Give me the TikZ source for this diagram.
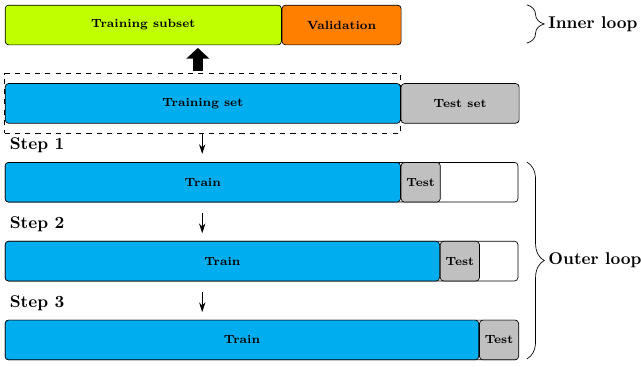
\documentclass[tikz,border=0pt]{standalone}
\usepackage{amsmath}
\usetikzlibrary{positioning,fit,arrows.meta,decorations.pathreplacing}

\definecolor{subsetgreen}{RGB}{191,255,0}
\definecolor{valorange}{RGB}{255,128,0}
\definecolor{trainblue}{RGB}{0,174,239}
\definecolor{testgray}{RGB}{192,192,192}

\tikzset{
  blk/.style={draw, rounded corners=2pt, minimum height=0.82cm, inner sep=0pt,
    font=\scriptsize\bfseries, anchor=north west},
  steplbl/.style={anchor=west, font=\bfseries},
  looplbl/.style={anchor=west, inner xsep=0pt, font=\bfseries},
  loopbrace/.style={decorate, decoration={brace, amplitude=0.36cm}},
  steparrow/.style={-{Stealth[length=2mm,width=1.3mm]}},
  bigarrow/.style={-{Triangle[width=0.46cm,length=0.22cm]}, line width=0.2cm}
}

\begin{document}
\begin{tikzpicture}
\useasboundingbox (0,0) rectangle (13.25,-7.586);

% inner loop
\node[blk, fill=subsetgreen, minimum width=5.71cm] (subset) at (0.10,-0.10) {Training subset};
\node[blk, fill=valorange, minimum width=2.46cm, right=0pt of subset] (valid) {Validation};

% whole data
\node[blk, fill=trainblue, minimum width=8.17cm] (trainset) at (0.10,-1.72) {Training set};
\node[blk, fill=testgray, minimum width=2.44cm, right=0pt of trainset] (testset) {Test set};
\node[draw, dashed, fit=(trainset), inner xsep=0pt, inner ysep=0.2cm] (outline) {};

\coordinate (up0) at (4.09,-1.47);
\coordinate (up1) at (4.09,-0.99);
\draw[bigarrow] (up0) -- (up1);

% step 1
\node[blk, fill=white, minimum width=10.60cm] (row1) at (0.10,-3.35) {};
\node[blk, fill=trainblue, minimum width=8.17cm] (train1) at (0.10,-3.35) {Train};
\node[blk, fill=testgray, minimum width=0.81cm, right=0pt of train1] (test1) {Test};
\node[steplbl] (step1) at (0.08,-3.00) {Step 1};

% step 2
\node[blk, fill=white, minimum width=10.60cm] (row2) at (0.10,-4.98) {};
\node[blk, fill=trainblue, minimum width=8.98cm] (train2) at (0.10,-4.98) {Train};
\node[blk, fill=testgray, minimum width=0.81cm, right=0pt of train2] (test2) {Test};
\node[steplbl] (step2) at (0.08,-4.63) {Step 2};

% step 3
\node[blk, fill=white, minimum width=10.60cm] (row3) at (0.10,-6.61) {};
\node[blk, fill=trainblue, minimum width=9.79cm] (train3) at (0.10,-6.61) {Train};
\node[blk, fill=testgray, minimum width=0.81cm, right=0pt of train3] (test3) {Test};
\node[steplbl] (step3) at (0.08,-6.26) {Step 3};

\coordinate (a1) at (4.18,-2.75);
\coordinate (b1) at (4.18,-3.18);
\coordinate (a2) at (4.18,-4.40);
\coordinate (b2) at (4.18,-4.82);
\coordinate (a3) at (4.18,-6.04);
\coordinate (b3) at (4.18,-6.45);
\draw[steparrow] (a1) -- (b1);
\draw[steparrow] (a2) -- (b2);
\draw[steparrow] (a3) -- (b3);

% braces
\coordinate (ib0) at (10.89,-0.10);
\coordinate (ib1) at (10.89,-0.89);
\draw[loopbrace] (ib0) -- (ib1);
\node[looplbl] (inner) at (11.33,-0.50) {Inner loop};

\coordinate (ob0) at (10.89,-3.35);
\coordinate (ob1) at (10.89,-7.42);
\draw[loopbrace] (ob0) -- (ob1);
\node[looplbl] (outer) at (11.33,-5.38) {Outer loop};
\end{tikzpicture}
\end{document}
